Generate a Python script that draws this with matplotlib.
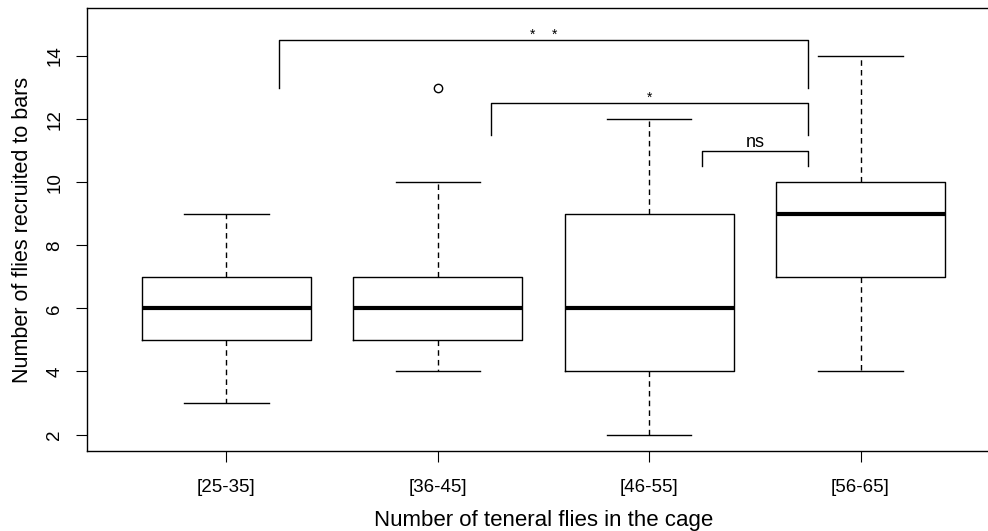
import numpy as np
import matplotlib.pyplot as plt

plt.rcParams['font.family'] = ['Liberation Sans', 'DejaVu Sans']

# groups and box statistics
groups = ['[25-35]', '[36-45]', '[46-55]', '[56-65]']
whislo = [3, 4, 2, 4]
q1 = [5, 5, 4, 7]
med = [6, 6, 6, 9]
q3 = [7, 7, 9, 10]
whishi = [9, 10, 12, 14]
outliers = [[], [13], [], []]

# significance brackets: (x left, x right, y bar, y tip, label)
brackets = [
    (1.25, 3.75, 14.5, 13.0, '**'),
    (2.25, 3.75, 12.5, 11.5, '*'),
    (3.25, 3.75, 11.0, 10.5, 'ns'),
]

stats = []
for i in range(len(groups)):
    stats.append(dict(whislo=whislo[i], q1=q1[i], med=med[i], q3=q3[i],
                      whishi=whishi[i], fliers=outliers[i], label=groups[i]))

fig = plt.figure(figsize=(9.88, 5.31), dpi=100)
ax = fig.add_axes([87 / 988, 80 / 531, 913 / 988, 443 / 531])

ax.bxp(stats, positions=np.arange(1, 5), widths=0.8, patch_artist=False,
       boxprops=dict(color='black', linewidth=1),
       medianprops=dict(color='black', linewidth=3),
       whiskerprops=dict(color='black', linewidth=1, linestyle=(0, (4, 3))),
       capprops=dict(color='black', linewidth=1),
       capwidths=0.4,
       flierprops=dict(marker='o', markerfacecolor='none', markeredgecolor='black',
                       markersize=6, markeredgewidth=1))

for xl, xr, yb, yt, lab in brackets:
    ax.plot([xl, xl, xr, xr], [yt, yb, yb, yt], color='black', linewidth=1)
    xm = (xl + xr) / 2
    if lab == 'ns':
        ax.text(xm, yb + 0.27, lab, ha='center', va='center', fontsize=13)
    else:
        n = len(lab)
        for k in range(n):
            ax.text(xm + (k - (n - 1) / 2) * 0.1, yb + 0.18, '*',
                    ha='center', va='center', fontsize=10)

ax.set_xlim(0.34, 4.66)
ax.set_ylim(1.48, 15.52)
ax.set_yticks([2, 4, 6, 8, 10, 12, 14])
ax.set_xticks(np.arange(1, 5))
ax.set_xticklabels(groups)
ax.tick_params(axis='y', labelrotation=90, labelsize=13.5, length=8, pad=9)
ax.tick_params(axis='x', labelsize=13.5, length=8, pad=12.5)
for lab in ax.get_yticklabels():
    lab.set_va('center')
ax.set_xlabel('Number of teneral flies in the cage', fontsize=16, labelpad=10)
ax.set_ylabel('Number of flies recruited to bars', fontsize=15.5, labelpad=10)
for s in ax.spines.values():
    s.set_linewidth(1)

fig.savefig('out.png', dpi=100)
